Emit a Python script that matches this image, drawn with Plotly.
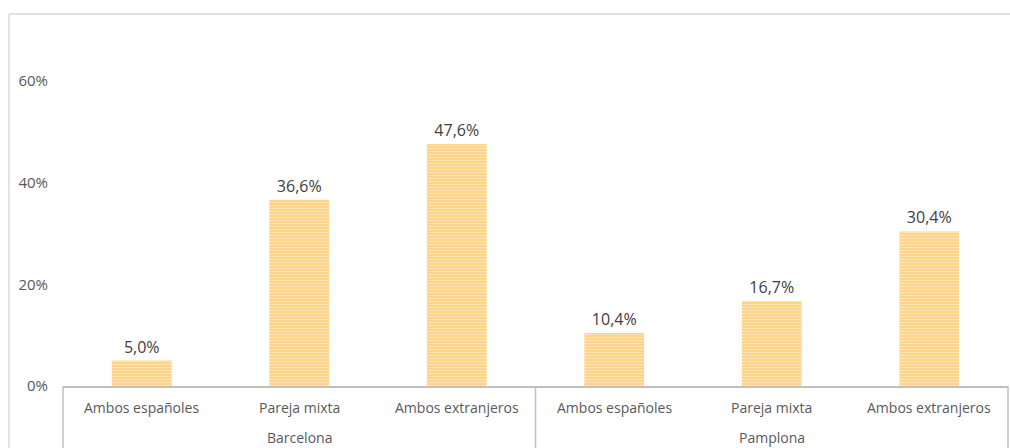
import plotly.graph_objects as go

cities = ["Barcelona", "Barcelona", "Barcelona", "Pamplona", "Pamplona", "Pamplona"]
groups = ["Ambos españoles", "Pareja mixta", "Ambos extranjeros",
          "Ambos españoles", "Pareja mixta", "Ambos extranjeros"]
values = [5.0, 36.6, 47.6, 10.4, 16.7, 30.4]
city_names = ["Barcelona", "Pamplona"]
ytick_vals = [0, 20, 40, 60]
ytick_text = ["0%", "20%", "40%", "60%"]

FONT = "Open Sans"
W, H = 1010, 448
L, R, T, B = 63, 2, 30, 62
pw, ph = W - L - R, H - T - B

def px2paper_x(px):
    return (px - L) / pw

def px2paper_y(py):
    return (H - B - py) / ph

fig = go.Figure()
fig.add_trace(go.Bar(
    x=[cities, groups],
    y=values,
    width=0.38,
    marker=dict(
        color="#FFD48A",
        line=dict(width=0),
        pattern=dict(shape="-", fgcolor="#FFF2D9", size=3, solidity=0.35, fillmode="overlay"),
    ),
    texttemplate="%{y:.1f}%",
    textposition="outside",
    textfont=dict(family=FONT, size=16, color="#404040"),
    cliponaxis=False,
    hoverinfo="skip",
))

fig.update_layout(
    width=W, height=H,
    margin=dict(l=L, r=R, t=T, b=B, pad=0, autoexpand=False),
    paper_bgcolor="white",
    plot_bgcolor="white",
    separators=",.",
    showlegend=False,
    font=dict(family=FONT, size=13, color="#595959"),
)

fig.update_xaxes(
    type="multicategory",
    showline=True, linecolor="#BFBFBF", linewidth=1.5,
    showgrid=False, ticks="", showticklabels=False,
    showdividers=False,
)
fig.update_yaxes(
    range=[0, 70],
    tickvals=ytick_vals, ticktext=ytick_text,
    showgrid=False, showline=False, zeroline=False, ticks="",
    ticklabelstandoff=14,
    tickfont=dict(family=FONT, size=15, color="#595959"),
)

# category labels (inner level) and group labels (outer level)
n = len(groups)
y_inner = px2paper_y(407)
y_outer = px2paper_y(437)
for i, g in enumerate(groups):
    fig.add_annotation(xref="paper", yref="paper", x=(i + 0.5) / n, y=y_inner,
                       text=g, showarrow=False, xanchor="center", yanchor="middle",
                       font=dict(family=FONT, size=14, color="#595959"))
ng = len(city_names)
for j, c in enumerate(city_names):
    fig.add_annotation(xref="paper", yref="paper", x=(j + 0.5) / ng, y=y_outer,
                       text=c, showarrow=False, xanchor="center", yanchor="middle",
                       font=dict(family=FONT, size=14, color="#595959"))

# group dividers
for k in range(ng + 1):
    xk = k / ng
    fig.add_shape(type="line", xref="paper", yref="paper",
                  x0=xk, x1=xk, y0=0, y1=px2paper_y(470),
                  line=dict(color="#BFBFBF", width=1.5))

# outer chart frame (partially visible)
x_left = px2paper_x(9)
y_top = px2paper_y(14)
fig.add_shape(type="line", xref="paper", yref="paper",
              x0=x_left, x1=x_left, y0=y_top, y1=px2paper_y(470),
              line=dict(color="#D9D9D9", width=1.5))
fig.add_shape(type="line", xref="paper", yref="paper",
              x0=x_left, x1=px2paper_x(1030), y0=y_top, y1=y_top,
              line=dict(color="#D9D9D9", width=1.5))

fig.write_html(
    "out.html",
    config={"displayModeBar": False, "staticPlot": True},
    post_script="document.body.style.margin='0';document.documentElement.style.overflow='hidden';document.body.style.overflow='hidden';",
)
